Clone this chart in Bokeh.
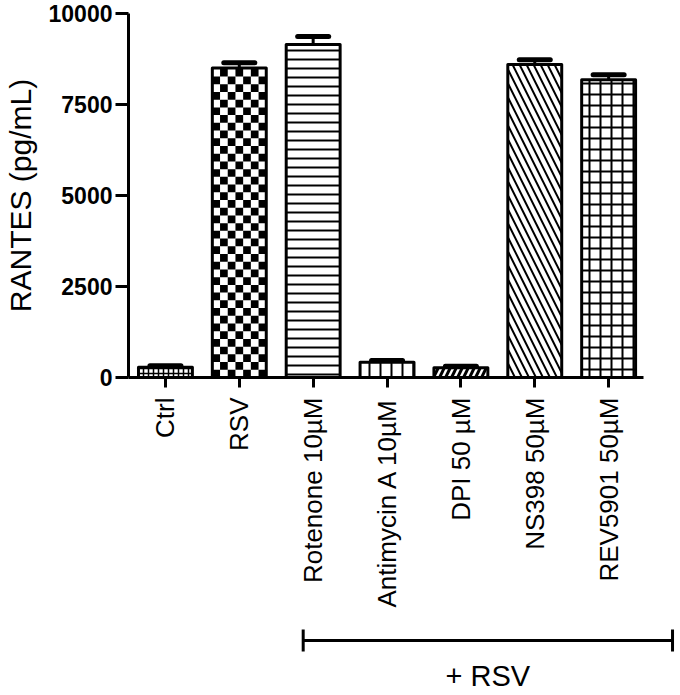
import numpy as np
from bokeh.plotting import figure
from bokeh.models import Range1d, FixedTicker, ColumnDataSource
from bokeh.layouts import column
from bokeh.embed import file_html
from bokeh.resources import INLINE
from bokeh.core.properties import value

# ---------------- data ----------------
categories = ["Ctrl", "RSV", "Rotenone 10\u00b5M", "Antimycin A 10\u00b5M",
              "DPI 50 \u00b5M", "NS398 50\u00b5M", "REV5901 50\u00b5M"]
means = [280, 8500, 9150, 420, 270, 8600, 8180]
errors = [40, 150, 220, 50, 40, 130, 140]
y_ticks = [0, 2500, 5000, 7500, 10000]
y_label = "RANTES (pg/mL)"
bracket_label = "+ RSV"
bracket_first = "Rotenone 10\u00b5M"

# ---------------- styles ----------------
patterns = ["cross", " ", "horizontal_line", "vertical_line",
            "right_diagonal_line", "left_diagonal_line", "cross"]
pat_scale = [5, 8, 9, 11, 12, 14, 11]
pat_weight = [1.5, 1, 2, 2, 3, 2, 2]
checker_bar = "RSV"
FONT = "Liberation Sans"

# ---------------- layout (pixels) ----------------
W = 680
H_MAIN, H_BR = 615, 80
BL, BR, BT = 127, 0, 13
UNIT_PX = 74.0              # pixels per category slot
FRAME_H = 364
BB = H_MAIN - BT - FRAME_H
BAR_W = 0.73
CAP_HALF = 0.21
BRACKET_Y = 25              # px from top of bracket strip
BRACKET_TICK = 11
LABEL_Y = 60
BRACKET_LEFT_OFF = -0.135
BRACKET_RIGHT_OFF = 0.865
AXIS_END_OFF = 0.47

n = len(categories)
xs = list(range(n))
x_lo = -0.5
x_hi = x_lo + (W - BL - BR) / UNIT_PX
y_lo, y_hi = 0, 10000
xr = Range1d(x_lo, x_hi)

p = figure(width=W, height=H_MAIN, x_range=xr,
           y_range=Range1d(y_lo, y_hi), output_backend="svg",
           toolbar_location=None, min_border_left=BL, min_border_right=BR,
           min_border_top=BT, min_border_bottom=BB)
p.outline_line_color = None
p.grid.visible = False
p.background_fill_color = "white"

src = ColumnDataSource(dict(x=xs, top=means, pat=patterns, sc=pat_scale, hw=pat_weight))
p.vbar(x="x", top="top", bottom=0, width=BAR_W, source=src, fill_color="white",
       hatch_pattern="pat", hatch_scale="sc", hatch_weight="hw", hatch_color="black",
       line_color=None)

# checkerboard fill for the RSV bar
ci = categories.index(checker_bar)
ncols = 7
cw = BAR_W / ncols
px_per_unit_y = FRAME_H / (y_hi - y_lo)
ch = cw * UNIT_PX / px_per_unit_y
left0 = xs[ci] - BAR_W / 2
lefts, rights, bots, tops = [], [], [], []
r = 0
while r * ch < means[ci]:
    for c in range(ncols):
        if (r + c) % 2 == 0:
            lefts.append(left0 + c * cw)
            rights.append(left0 + (c + 1) * cw)
            bots.append(r * ch)
            tops.append(min((r + 1) * ch, means[ci]))
    r += 1
p.quad(left=lefts, right=rights, bottom=bots, top=tops, fill_color="black", line_color=None)

# outlines
p.vbar(x=xs, top=means, bottom=0, width=BAR_W, fill_color=None,
       line_color="black", line_width=3, line_join="round")

# error bars
tops_err = [m + e for m, e in zip(means, errors)]
p.segment(x0=xs, y0=means, x1=xs, y1=tops_err, line_color="black", line_width=3)
p.segment(x0=[x - CAP_HALF for x in xs], y0=tops_err, x1=[x + CAP_HALF for x in xs],
          y1=tops_err, line_color="black", line_width=5, line_cap="round")

# axes
p.yaxis.ticker = FixedTicker(ticks=y_ticks)
p.yaxis.minor_tick_line_color = None
p.yaxis.major_tick_in = 0
p.yaxis.major_tick_out = 13
p.yaxis.major_tick_line_width = 3
p.yaxis.axis_line_width = 3
p.yaxis.major_label_text_font = FONT
p.yaxis.major_label_text_font_style = "bold"
p.yaxis.major_label_text_font_size = "23px"
p.yaxis.major_label_text_color = "black"
p.yaxis.major_label_standoff = 3
p.yaxis.axis_label = y_label
p.yaxis.axis_label_text_font = FONT
p.yaxis.axis_label_text_font_style = "normal"
p.yaxis.axis_label_text_font_size = "30px"
p.yaxis.axis_label_text_color = "black"
p.yaxis.axis_label_standoff = 9

p.xaxis.bounds = (x_lo, xs[-1] + AXIS_END_OFF)
p.xaxis.ticker = FixedTicker(ticks=xs)
p.xaxis.major_label_overrides = {i: c for i, c in zip(xs, categories)}
p.xaxis.major_label_orientation = np.pi / 2
p.xaxis.minor_tick_line_color = None
p.xaxis.major_tick_in = 0
p.xaxis.major_tick_out = 10
p.xaxis.major_tick_line_width = 3
p.xaxis.axis_line_width = 3
p.xaxis.major_label_text_font = FONT
p.xaxis.major_label_text_font_size = "26px"
p.xaxis.major_label_text_color = "black"
p.xaxis.major_label_standoff = 10

# ---------------- bracket strip ----------------
q = figure(width=W, height=H_BR, x_range=xr, y_range=Range1d(H_BR, 0),
           output_backend="svg", toolbar_location=None, x_axis_location=None,
           y_axis_location=None, min_border_left=BL, min_border_right=BR,
           min_border_top=0, min_border_bottom=0)
q.outline_line_color = None
q.grid.visible = False

b_left = categories.index(bracket_first) + BRACKET_LEFT_OFF
b_right = xs[-1] + BRACKET_RIGHT_OFF
q.segment(x0=[b_left], y0=[BRACKET_Y], x1=[b_right], y1=[BRACKET_Y],
          line_color="black", line_width=3)
q.segment(x0=[b_left, b_right], y0=[BRACKET_Y - BRACKET_TICK] * 2, x1=[b_left, b_right],
          y1=[BRACKET_Y + BRACKET_TICK] * 2, line_color="black", line_width=3)
q.text(x=[(b_left + b_right) / 2], y=[LABEL_Y], text=[bracket_label], text_align="center",
       text_baseline="middle", text_font=value(FONT), text_font_size="29px",
       text_color="black")

layout = column(p, q, spacing=0)
open("out.html", "w").write(file_html(layout, INLINE))
